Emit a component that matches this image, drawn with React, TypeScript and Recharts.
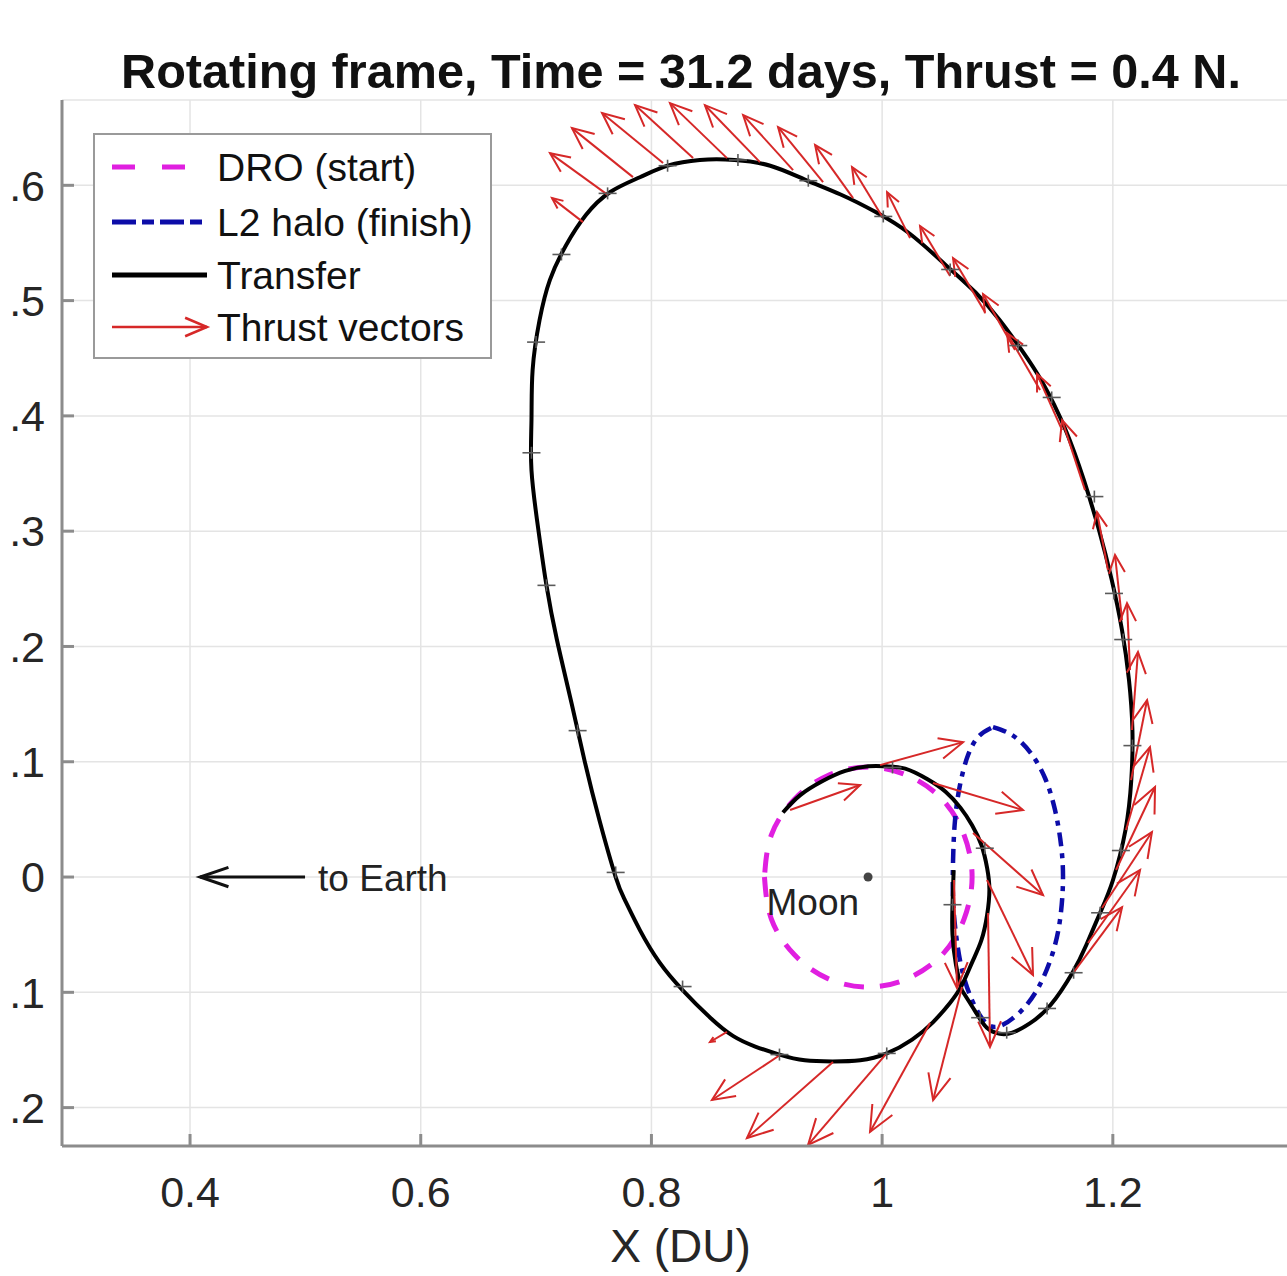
import React from 'react';
import {
  ComposedChart,
  Line,
  Scatter,
  XAxis,
  YAxis,
  CartesianGrid,
  ReferenceLine,
  ReferenceDot,
} from 'recharts';

const FONT = '"Liberation Sans", Arial, Helvetica, sans-serif';
const DRO_COLOR = '#e01fe0';
const HALO_COLOR = '#0c0ca8';
const THRUST_COLOR = '#d62828';

const xTicks = [0.4, 0.6, 0.8, 1, 1.2];
const yTicks = [-0.2, -0.1, 0, 0.1, 0.2, 0.3, 0.4, 0.5, 0.6];

const toXY = (pts: number[][]) => pts.map(([x, y]) => ({ x, y }));

// DRO (start orbit) around the Moon
const droOrbit = toXY([
  [0.898, 0], [0.904, -0.0365], [0.924, -0.0675], [0.953, -0.0881], [0.988, -0.0954],
  [1.022, -0.0881], [1.052, -0.0675], [1.071, -0.0365], [1.078, 0], [1.071, 0.0365],
  [1.052, 0.0675], [1.022, 0.0881], [0.988, 0.0954], [0.953, 0.0881], [0.924, 0.0675],
  [0.904, 0.0365], [0.898, 0],
]);

// L2 halo (finish orbit), projected
const haloOrbit = toXY([
  [1.0961, 0.1301], [1.1126, 0.1232], [1.1282, 0.1084], [1.1412, 0.0859], [1.1499, 0.0581],
  [1.1551, 0.0278], [1.1568, -0.0026], [1.1542, -0.0373], [1.1473, -0.0677], [1.1352, -0.0963],
  [1.1196, -0.1171], [1.1022, -0.1292], [1.0892, -0.1258], [1.0779, -0.1067], [1.0693, -0.0807],
  [1.0641, -0.0503], [1.0615, -0.0199], [1.0615, 0.0147], [1.0632, 0.0494], [1.0675, 0.0798],
  [1.0745, 0.1058], [1.084, 0.1223], [1.0961, 0.1301],
]);

// transfer trajectory, main arc
const transferPath = toXY([
  [0.914, 0.056], [0.929, 0.071], [0.948, 0.083], [0.968, 0.092], [0.988, 0.096], [1.004, 0.096],
  [1.02, 0.094], [1.039, 0.085], [1.055, 0.074], [1.068, 0.06], [1.078, 0.045], [1.086, 0.028],
  [1.091, 0.008], [1.093, -0.011], [1.091, -0.033], [1.086, -0.055], [1.078, -0.074], [1.069, -0.094],
  [1.059, -0.109], [1.044, -0.126], [1.026, -0.141], [1.004, -0.153], [0.981, -0.159], [0.957, -0.16],
  [0.933, -0.159], [0.911, -0.154], [0.89, -0.147], [0.871, -0.138], [0.851, -0.122], [0.827, -0.098],
  [0.807, -0.074], [0.79, -0.046], [0.777, -0.02], [0.769, 0.0], [0.755, 0.049], [0.742, 0.101],
  [0.73, 0.154], [0.718, 0.206], [0.709, 0.253], [0.702, 0.301], [0.696, 0.353], [0.696, 0.396],
  [0.697, 0.44], [0.703, 0.483], [0.712, 0.518], [0.726, 0.548], [0.743, 0.574], [0.764, 0.594],
  [0.79, 0.607], [0.814, 0.617], [0.842, 0.622], [0.872, 0.622], [0.903, 0.617], [0.933, 0.605],
  [0.964, 0.592], [0.994, 0.577], [1.024, 0.558], [1.055, 0.531], [1.081, 0.507], [1.102, 0.483],
  [1.121, 0.457], [1.139, 0.429], [1.159, 0.388], [1.175, 0.344], [1.188, 0.301], [1.199, 0.258],
  [1.208, 0.214], [1.214, 0.171], [1.217, 0.127], [1.216, 0.084], [1.211, 0.041], [1.2, -0.003],
  [1.189, -0.031], [1.177, -0.059], [1.165, -0.083], [1.146, -0.111], [1.128, -0.127], [1.113, -0.135],
  [1.102, -0.136], [1.091, -0.131], [1.081, -0.117], [1.069, -0.098],
]);

// transfer, final insertion leg up the halo's inner side
const transferFinal = toXY([
  [1.069, -0.098], [1.064, -0.076], [1.061, -0.05], [1.061, -0.024], [1.062, 0.006],
]);

// segment nodes drawn as + markers
const segmentNodes = toXY([
  [1.009, 0.095], [1.089, 0.025], [1.061, -0.024], [1.085, -0.122], [1.108, -0.135],
  [1.143, -0.114], [1.166, -0.083], [1.189, -0.031], [1.207, 0.023], [1.217, 0.114],
  [1.209, 0.206], [1.201, 0.246], [1.184, 0.33], [1.147, 0.416], [1.118, 0.461],
  [1.059, 0.527], [1.001, 0.573], [0.936, 0.604], [0.875, 0.622], [0.814, 0.617],
  [0.762, 0.593], [0.722, 0.54], [0.7, 0.464], [0.696, 0.368], [0.709, 0.253],
  [0.736, 0.127], [0.769, 0.004], [0.827, -0.095], [0.911, -0.154], [1.004, -0.153],
]);

// thrust vectors: base (x, y) and components (u, v)
const thrustVectors = [
  { x: 0.7407, y: 0.5681, u: -0.0269, v: 0.0208 },
  { x: 0.7624, y: 0.5915, u: -0.0503, v: 0.0364 },
  { x: 0.784, y: 0.6071, u: -0.0529, v: 0.0425 },
  { x: 0.8101, y: 0.6193, u: -0.0529, v: 0.0434 },
  { x: 0.8361, y: 0.6236, u: -0.0503, v: 0.046 },
  { x: 0.8655, y: 0.6236, u: -0.0494, v: 0.0477 },
  { x: 0.8941, y: 0.6201, u: -0.0477, v: 0.0494 },
  { x: 0.9228, y: 0.6132, u: -0.0433, v: 0.0477 },
  { x: 0.9488, y: 0.6028, u: -0.039, v: 0.0477 },
  { x: 0.9748, y: 0.5889, u: -0.0329, v: 0.046 },
  { x: 1.0008, y: 0.5716, u: -0.0269, v: 0.0442 },
  { x: 1.0242, y: 0.5542, u: -0.0199, v: 0.0399 },
  { x: 1.0589, y: 0.5213, u: -0.026, v: 0.0434 },
  { x: 1.0892, y: 0.49, u: -0.0277, v: 0.0468 },
  { x: 1.1152, y: 0.4571, u: -0.0277, v: 0.0486 },
  { x: 1.1369, y: 0.4224, u: -0.0286, v: 0.0494 },
  { x: 1.156, y: 0.3877, u: -0.0217, v: 0.0486 },
  { x: 1.1759, y: 0.3356, u: -0.0199, v: 0.0607 },
  { x: 1.1958, y: 0.2663, u: -0.0095, v: 0.0503 },
  { x: 1.208, y: 0.2229, u: -0.0061, v: 0.0564 },
  { x: 1.2149, y: 0.1795, u: -0.0026, v: 0.0581 },
  { x: 1.2166, y: 0.1275, u: 0.0052, v: 0.0677 },
  { x: 1.2158, y: 0.0841, u: 0.0139, v: 0.0694 },
  { x: 1.2114, y: 0.0408, u: 0.0208, v: 0.072 },
  { x: 1.2028, y: 0.0061, u: 0.0338, v: 0.072 },
  { x: 1.1906, y: -0.0269, u: 0.0433, v: 0.0659 },
  { x: 1.1785, y: -0.0572, u: 0.0451, v: 0.0633 },
  { x: 1.1655, y: -0.0833, u: 0.0425, v: 0.0572 },
  { x: 0.9202, y: 0.0581, u: 0.0607, v: 0.0217 },
  { x: 0.9982, y: 0.0971, u: 0.072, v: 0.0199 },
  { x: 1.0441, y: 0.0815, u: 0.078, v: -0.0234 },
  { x: 1.0788, y: 0.0382, u: 0.0607, v: -0.0538 },
  { x: 1.0909, y: -0.0026, u: 0.0399, v: -0.0824 },
  { x: 1.0918, y: -0.0312, u: 0.0017, v: -0.1162 },
  { x: 1.0623, y: -0.0026, u: 0.0026, v: -0.0937 },
  { x: 1.0693, y: -0.0954, u: -0.0251, v: -0.098 },
  { x: 1.0415, y: -0.1266, u: -0.052, v: -0.0945 },
  { x: 1.0043, y: -0.1526, u: -0.0685, v: -0.0798 },
  { x: 0.9574, y: -0.1605, u: -0.0746, v: -0.0659 },
  { x: 0.9115, y: -0.1544, u: -0.059, v: -0.039 },
  { x: 0.8655, y: -0.1344, u: -0.0147, v: -0.0087 },
];

const moon = { x: 0.9878, y: 0 };
const earthArrow = { x: 0.4997, y: 0, u: -0.091, v: 0 };
const earthLabel = { x: 0.511, y: 0 };

const makeArrow = (color: string, width: number, frac: number, maxHead: number, spread: number) =>
  (props: any) => {
    const { x1, y1, x2, y2 } = props;
    if ([x1, y1, x2, y2].some((n) => typeof n !== 'number' || isNaN(n))) return <g />;
    const ang = Math.atan2(y2 - y1, x2 - x1);
    const len = Math.hypot(x2 - x1, y2 - y1);
    const h = Math.min(len * frac, maxHead);
    const ax = x2 - h * Math.cos(ang - spread);
    const ay = y2 - h * Math.sin(ang - spread);
    const bx = x2 - h * Math.cos(ang + spread);
    const by = y2 - h * Math.sin(ang + spread);
    return (
      <g>
        <line x1={x1} y1={y1} x2={x2} y2={y2} stroke={color} strokeWidth={width} />
        <polyline
          points={`${ax},${ay} ${x2},${y2} ${bx},${by}`}
          fill="none"
          stroke={color}
          strokeWidth={width}
          strokeLinejoin="miter"
        />
      </g>
    );
  };

const thrustArrow = makeArrow(THRUST_COLOR, 2, 0.3, 28, 0.42);
const earthArrowShape = makeArrow('#111', 3, 0.3, 30, 0.33);

const PlusMarker = (props: any) => {
  const { cx, cy } = props;
  if (typeof cx !== 'number') return <g />;
  return (
    <g stroke="#5a5a5a" strokeWidth={1.6}>
      <line x1={cx - 9} x2={cx + 9} y1={cy} y2={cy} />
      <line x1={cx} x2={cx} y1={cy - 6} y2={cy + 6} />
    </g>
  );
};

const MoonShape = (props: any) => {
  const { cx, cy } = props;
  return (
    <g>
      <circle cx={cx} cy={cy} r={4.5} fill="#444" />
      <text x={cx - 9} y={cy + 38} textAnchor="end" fontSize={37} fill="#222" fontFamily={FONT}>
        Moon
      </text>
    </g>
  );
};

const EarthText = (props: any) => {
  const { cx, cy } = props;
  return (
    <text x={cx} y={cy + 14} fontSize={37} fill="#222" fontFamily={FONT}>
      to Earth
    </text>
  );
};

const formatY = (v: number) => (v === 0 ? '0' : '.' + Math.round(Math.abs(v) * 10));
const formatX = (v: number) => (v === 1 ? '1' : v.toFixed(1));

const Legend = () => (
  <svg width={399} height={226} style={{ position: 'absolute', left: 93, top: 133 }}>
    <rect x={1} y={1} width={397} height={224} fill="#fff" stroke="#9a9a9a" strokeWidth={2} />
    <line x1={19} x2={114} y1={34} y2={34} stroke={DRO_COLOR} strokeWidth={5} strokeDasharray="23 27" />
    <line x1={19} x2={114} y1={89} y2={89} stroke={HALO_COLOR} strokeWidth={5} strokeDasharray="24 6 12 6" />
    <line x1={19} x2={114} y1={142} y2={142} stroke="#000" strokeWidth={5} />
    {makeArrow(THRUST_COLOR, 2.5, 0.25, 24, 0.4)({ x1: 19, y1: 194, x2: 114, y2: 194 })}
    <g fontSize={39} fill="#111" fontFamily={FONT}>
      <text x={124} y={48}>DRO (start)</text>
      <text x={124} y={103}>L2 halo (finish)</text>
      <text x={124} y={156}>Transfer</text>
      <text x={124} y={208}>Thrust vectors</text>
    </g>
  </svg>
);

export default function App() {
  return (
    <div
      style={{
        position: 'absolute',
        left: 0,
        top: 0,
        width: 1287,
        height: 1276,
        overflow: 'hidden',
        background: '#fff',
        fontFamily: FONT,
      }}
    >
      <div
        style={{
          position: 'absolute',
          left: 0,
          top: 47,
          width: 1362,
          textAlign: 'center',
          fontSize: 48.6,
          lineHeight: '48px',
          fontWeight: 'bold',
          color: '#111',
          whiteSpace: 'nowrap',
        }}
      >
        Rotating frame, Time = 31.2 days, Thrust = 0.4 N.
      </div>
      <div style={{ position: 'absolute', left: 0, top: 0 }}>
        <ComposedChart width={1300} height={1276} margin={{ top: 100, right: 1, bottom: 0, left: 0 }}>
          <CartesianGrid stroke="#e4e4e4" strokeWidth={1.5} />
          <XAxis
            type="number"
            dataKey="x"
            domain={[0.289, 1.3614]}
            allowDataOverflow
            ticks={xTicks}
            interval={0}
            tickFormatter={formatX}
            height={130}
            tickSize={-12}
            tickMargin={42}
            stroke="#8c8c8c"
            strokeWidth={3}
            tick={{ fontSize: 43, fill: '#262626', fontFamily: FONT }}
            label={{ value: 'X (DU)', position: 'insideBottom', offset: 14, fontSize: 46, fill: '#262626', fontFamily: FONT }}
          />
          <YAxis
            type="number"
            dataKey="y"
            domain={[-0.2333, 0.674]}
            allowDataOverflow
            ticks={yTicks}
            interval={0}
            tickFormatter={formatY}
            width={62}
            tickSize={-12}
            tickMargin={29}
            stroke="#8c8c8c"
            strokeWidth={3}
            tick={{ fontSize: 43, fill: '#262626', fontFamily: FONT }}
          />
          <Line
            data={droOrbit}
            dataKey="y"
            type="natural"
            stroke={DRO_COLOR}
            strokeWidth={5}
            strokeDasharray="20 16"
            dot={false}
            activeDot={false}
            isAnimationActive={false}
          />
          <Line
            data={haloOrbit}
            dataKey="y"
            type="natural"
            stroke={HALO_COLOR}
            strokeWidth={4.5}
            strokeDasharray="14 7 5 7"
            dot={false}
            activeDot={false}
            isAnimationActive={false}
          />
          <Line
            data={transferPath}
            dataKey="y"
            type="natural"
            stroke="#000"
            strokeWidth={4}
            dot={false}
            activeDot={false}
            isAnimationActive={false}
          />
          <Line
            data={transferFinal}
            dataKey="y"
            type="natural"
            stroke="#000"
            strokeWidth={4}
            dot={false}
            activeDot={false}
            isAnimationActive={false}
          />
          <Scatter data={segmentNodes} shape={PlusMarker} isAnimationActive={false} />
          {thrustVectors.map((t, i) => (
            <ReferenceLine
              key={`thrust-${i}`}
              segment={[
                { x: t.x, y: t.y },
                { x: t.x + t.u, y: t.y + t.v },
              ]}
              ifOverflow="visible"
              shape={thrustArrow}
            />
          ))}
          <ReferenceLine
            segment={[
              { x: earthArrow.x, y: earthArrow.y },
              { x: earthArrow.x + earthArrow.u, y: earthArrow.y + earthArrow.v },
            ]}
            ifOverflow="visible"
            shape={earthArrowShape}
          />
          <ReferenceDot x={earthLabel.x} y={earthLabel.y} r={0} ifOverflow="visible" shape={EarthText} />
          <ReferenceDot x={moon.x} y={moon.y} r={4} ifOverflow="visible" shape={MoonShape} />
        </ComposedChart>
      </div>
      <Legend />
    </div>
  );
}
